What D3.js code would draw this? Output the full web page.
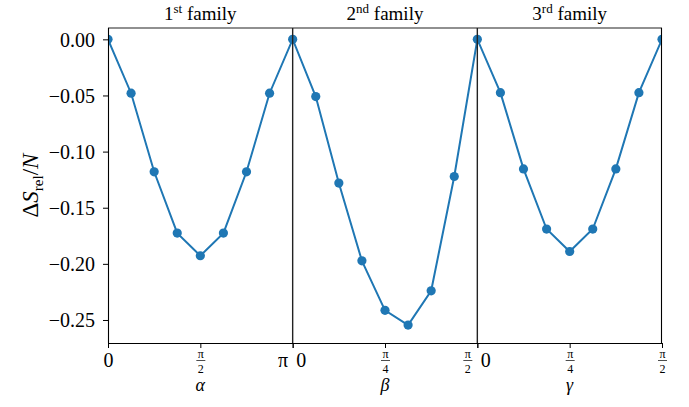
<!DOCTYPE html>
<meta charset="utf-8">
<style>
  body { margin: 0; background: #fff; }
  svg text { font-family: "Liberation Serif", "Times New Roman", serif !important; fill: #000; }
  .tick-label { font-size: 20px; }
  .frac { font-size: 12px; }
  .panel-title { font-size: 19px; }
  .axis-name { font-size: 18px; font-style: italic; }
</style>
<script src="https://d3js.org/d3.v7.min.js"></script>
<div id="chart"></div>
<script>
// angles in units of pi
var alphaOverPi = [0, 0.125, 0.25, 0.375, 0.5, 0.625, 0.75, 0.875, 1];
var betaOverPi  = [0, 0.0625, 0.125, 0.1875, 0.25, 0.3125, 0.375, 0.4375, 0.5];
var gammaOverPi = [0, 0.0625, 0.125, 0.1875, 0.25, 0.3125, 0.375, 0.4375, 0.5];

// Delta S_rel / N
var family1 = [0, -0.048, -0.118, -0.1726, -0.1928, -0.1726, -0.118, -0.048, 0];
var family2 = [0, -0.051, -0.128, -0.1973, -0.2414, -0.2545, -0.224, -0.1222, 0];
var family3 = [0, -0.0475, -0.1154, -0.169, -0.189, -0.169, -0.1154, -0.0475, 0];

var panelTitles = [["1", "st"], ["2", "nd"], ["3", "rd"]];
var axisNames = ["α", "β", "γ"];

var yTicks = [0, -0.05, -0.10, -0.15, -0.20, -0.25];
var alphaTicks = [0, 0.5, 1],   alphaTickLabels = ["0", "π/2", "π"];
var betaTicks  = [0, 0.25, 0.5], betaTickLabels  = ["0", "π/4", "π/2"];
var gammaTicks = [0, 0.25, 0.5], gammaTickLabels = ["0", "π/4", "π/2"];

var panels = [
  {xs: alphaOverPi, ys: family1, dom: [0, 1],   ticks: alphaTicks, labels: alphaTickLabels},
  {xs: betaOverPi,  ys: family2, dom: [0, 0.5], ticks: betaTicks,  labels: betaTickLabels},
  {xs: gammaOverPi, ys: family3, dom: [0, 0.5], ticks: gammaTicks, labels: gammaTickLabels}
];

var W = 689, H = 407;
var margin = {top: 28, right: 27, bottom: 64, left: 108},
    width = W - margin.left - margin.right,
    height = H - margin.top - margin.bottom,
    pw = width / 3;

var svg = d3.select("#chart").append("svg")
    .attr("width", W).attr("height", H)
  .append("g")
    .attr("transform", "translate(" + margin.left + "," + margin.top + ")");

var y = d3.scaleLinear().domain([-0.2705, 0.0101]).range([height, 0]);

var blue = "#1f77b4";
var minus = function(v){ return v < 0 ? "\u2212" + d3.format(".2f")(-v) : d3.format(".2f")(v); };

// y axis
var yAxis = svg.append("g")
  .call(d3.axisLeft(y).tickValues(yTicks).tickSize(5).tickPadding(8).tickFormat(minus))
  .attr("font-family", null).attr("font-size", null);
yAxis.select(".domain").remove();
yAxis.selectAll(".tick line").attr("stroke", "#000");
yAxis.selectAll(".tick text").attr("class", "tick-label").attr("dy", "0.34em");

panels.forEach(function(p, i) {
  var x0 = i * pw;
  var x = d3.scaleLinear().domain(p.dom).range([x0, x0 + pw]);

  svg.append("clipPath").attr("id", "clip" + i)
    .append("rect").attr("x", x0).attr("y", 0).attr("width", pw).attr("height", height);

  var g = svg.append("g").attr("clip-path", "url(#clip" + i + ")");
  var pts = p.xs.map(function(v, k){ return [v, p.ys[k]]; });

  g.append("path").datum(pts)
    .attr("fill", "none").attr("stroke", blue).attr("stroke-width", 2)
    .attr("d", d3.line().x(function(d){ return x(d[0]); }).y(function(d){ return y(d[1]); }));

  g.selectAll("circle").data(pts).enter().append("circle")
    .attr("cx", function(d){ return x(d[0]); })
    .attr("cy", function(d){ return y(d[1]); })
    .attr("r", 4.6).attr("fill", blue);

  // x axis ticks
  var xa = svg.append("g").attr("transform", "translate(0," + height + ")")
    .call(d3.axisBottom(x).tickValues(p.ticks).tickSize(5).tickFormat(""))
    .attr("font-family", null).attr("font-size", null);
  xa.select(".domain").remove();
  xa.selectAll(".tick line").attr("stroke", "#000");

  xa.selectAll(".tick").each(function(d, k) {
    var t = d3.select(this), lab = p.labels[k];
    var dx = 0, anchor = "middle";
    if (k === 0 && i > 0) { anchor = "start"; dx = 3; }
    if (k === p.ticks.length - 1 && i < panels.length - 1) { anchor = "end"; dx = -5; }
    if (lab.indexOf("/") < 0) {
      t.append("text").attr("class", "tick-label").attr("text-anchor", anchor)
        .attr("x", dx).attr("y", 24).text(lab);
    } else {
      // stacked fraction: numerator, bar, denominator
      var parts = lab.split("/");
      var cx = anchor === "middle" ? 0 : (anchor === "end" ? dx - 5 : dx + 5);
      t.append("text").attr("class", "frac").attr("text-anchor", "middle")
        .attr("x", cx).attr("y", 14.5).text(parts[0]);
      t.append("line").attr("x1", cx - 4.5).attr("x2", cx + 4.5)
        .attr("y1", 17.5).attr("y2", 17.5).attr("stroke", "#000").attr("stroke-width", 0.7);
      t.append("text").attr("class", "frac").attr("text-anchor", "middle")
        .attr("x", cx).attr("y", 29.5).text(parts[1]);
    }
  });

  // axis name
  svg.append("text").attr("class", "axis-name").attr("text-anchor", "middle")
    .attr("x", x0 + pw / 2).attr("y", height + 48).text(axisNames[i]);

  // panel title
  var tt = svg.append("text").attr("class", "panel-title").attr("text-anchor", "middle")
    .attr("x", x0 + pw / 2).attr("y", -8);
  tt.append("tspan").text(panelTitles[i][0]);
  tt.append("tspan").attr("dy", -7).style("font-size", "13px").text(panelTitles[i][1]);
  tt.append("tspan").attr("dy", 7).text(" family");
});

// frame
svg.append("line").attr("x1", 0).attr("x2", width).attr("y1", height + 0.5).attr("y2", height + 0.5)
  .attr("stroke", "#000").attr("stroke-width", 1.1);
svg.append("line").attr("x1", 0).attr("x2", width).attr("y1", 0).attr("y2", 0)
  .attr("stroke", "#222").attr("stroke-width", 1.1);
svg.append("line").attr("x1", 0.5).attr("x2", 0.5).attr("y1", 0).attr("y2", height)
  .attr("stroke", "#000").attr("stroke-width", 1.1);
[1, 2].forEach(function(k) {
  svg.append("line").attr("x1", k * pw).attr("x2", k * pw).attr("y1", 0).attr("y2", height)
    .attr("stroke", "#222").attr("stroke-width", 1.4);
});
svg.append("line").attr("x1", width - 0.5).attr("x2", width - 0.5).attr("y1", 0).attr("y2", height)
  .attr("stroke", "#000").attr("stroke-width", 1.1);

// y label
var yl = svg.append("text").style("font-size", "23px")
  .attr("transform", "translate(" + (38 - margin.left) + "," + (height / 2) + ") rotate(-90)")
  .attr("text-anchor", "middle");
yl.append("tspan").text("Δ");
yl.append("tspan").attr("font-style", "italic").text("S");
yl.append("tspan").style("font-size", "15px").attr("dy", 5).text("rel");
yl.append("tspan").attr("dy", -5).text("/");
yl.append("tspan").attr("font-style", "italic").text("N");
</script>
